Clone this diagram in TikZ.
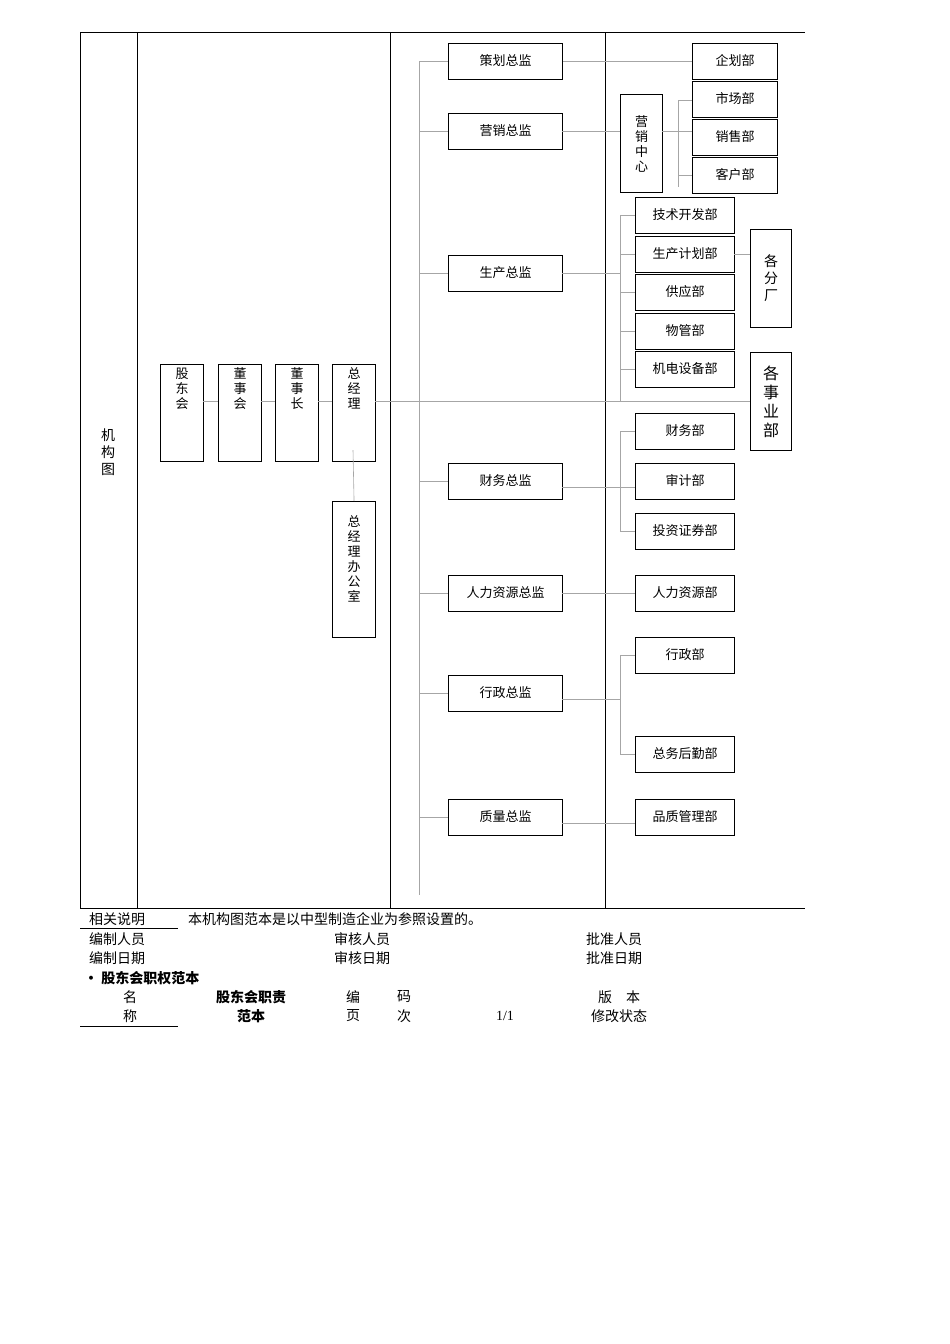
\documentclass[tikz,border=0pt]{standalone}
\usepackage{fontspec}
\setmainfont{Liberation Serif}
\newfontfamily\cjk{Noto Sans CJK SC}
\begin{document}
\begin{tikzpicture}[x=1pt,y=-1pt,
  bx/.style={draw,line width=1.1pt,inner sep=0pt,font=\cjk\fontsize{13}{15}\selectfont,align=center},
  ln/.style={draw=gray!70,line width=0.6pt},
  frame/.style={line width=0.8pt},
  txt/.style={font=\cjk\fontsize{14}{16}\selectfont,inner sep=0pt,anchor=west},
  btxt/.style={font=\cjk\bfseries\fontsize{14}{16}\selectfont,inner sep=0pt}]
\useasboundingbox (0,0) rectangle (950,1344);
% frame
\draw[frame] (80,32) -- (805,32);
\draw[frame] (80,908) -- (805,908);
\foreach \x in {80,137,390,605} \draw[frame] (\x,32) -- (\x,908);
\node[font=\cjk\fontsize{14}{17}\selectfont,align=center] (jgt) at (108,452) {机\\构\\图};
% small tall boxes
\newcommand{\tb}[5]{\node[bx,minimum width=#3,minimum height=#4,anchor=north west] (#1) at #2 {#5};}
\node[bx,minimum width=43,minimum height=86,anchor=north west] (gdh) at (160,364) {\rule{0pt}{14pt}股\\东\\会\\[38pt]};
\node[bx,minimum width=43,minimum height=86,anchor=north west] (dsh) at (218,364) {\rule{0pt}{14pt}董\\事\\会\\[38pt]};
\node[bx,minimum width=43,minimum height=86,anchor=north west] (dsz) at (275,364) {\rule{0pt}{14pt}董\\事\\长\\[38pt]};
\node[bx,minimum width=43,minimum height=86,anchor=north west] (zjl) at (332,364) {\rule{0pt}{14pt}总\\经\\理\\[38pt]};
\node[bx,minimum width=43,minimum height=136,anchor=north west] (bgs) at (332,501) {\rule{0pt}{14pt}总\\经\\理\\办\\公\\室\\[10pt]};
\draw[ln] (203,401) -- (218,401);
\draw[ln] (261,401) -- (275,401);
\draw[ln] (318,401) -- (332,401);
\draw[ln] (353,450) -- (bgs.north);
% directors
\foreach \n/\y/\t in {chz/43/策划总监,yxz/113/营销总监,scz/255/生产总监,cwz/463/财务总监,rlz/575/人力资源总监,xzz/675/行政总监,zlz/799/质量总监}{
  \node[bx,minimum width=114,minimum height=36,anchor=north west] (\n) at (448,\y) {\raisebox{4pt}{\t}};
  \draw[ln] (419,\y+18) -- (448,\y+18);
}
\draw[ln] (419,62) -- (419,895);
% departments right
\node[bx,minimum width=85,minimum height=36,anchor=north west] (qhb) at (692,43) {\raisebox{4pt}{企划部}};
\node[bx,minimum width=85,minimum height=36,anchor=north west] (scb) at (692,81) {\raisebox{4pt}{市场部}};
\node[bx,minimum width=85,minimum height=36,anchor=north west] (xsb) at (692,119) {\raisebox{4pt}{销售部}};
\node[bx,minimum width=85,minimum height=36,anchor=north west] (khb) at (692,157) {\raisebox{4pt}{客户部}};
\node[bx,minimum width=42,minimum height=98,anchor=north west] (yxzx) at (620,94) {营\\销\\中\\心};
\draw[ln] (chz.east |- 0,61) -- (692,61);
\draw[ln] (562,131) -- (620,131);
\draw[ln] (662,131) -- (692,131);
\draw[ln] (678,100) -- (678,187);
\draw[ln] (678,100) -- (692,100);
\draw[ln] (678,175) -- (692,175);
% production
\foreach \n/\y/\t in {jsb/197/技术开发部,jhb/236/生产计划部,gyb/274/供应部,wgb/313/物管部,jdb/351/机电设备部,cwb/413/财务部,sjb/463/审计部,tzb/513/投资证券部,rlb/575/人力资源部,xzb/637/行政部,hqb/736/总务后勤部,pzb/799/品质管理部}{
  \node[bx,minimum width=99,minimum height=36,anchor=north west] (\n) at (635,\y) {\raisebox{4pt}{\t}};
}
\foreach \y in {215,254,292,331,369} \draw[ln] (620,\y) -- (635,\y);
\draw[ln] (620,215) -- (620,402);
\draw[ln] (562,273) -- (620,273);
\node[bx,minimum width=41,minimum height=98,anchor=north west,font=\cjk\fontsize{14}{17}\selectfont] (gfc) at (750,229) {各\\分\\厂};
\node[bx,minimum width=41,minimum height=98,anchor=north west,font=\cjk\fontsize{16}{19}\selectfont] (gsyb) at (750,352) {各\\事\\业\\部};
\draw[ln] (734,254) -- (750,254);
\draw[ln] (375,401) -- (750,401);
% finance
\draw[ln] (620,431) -- (620,531);
\foreach \y in {431,531} \draw[ln] (620,\y) -- (635,\y);
\draw[ln] (562,487) -- (635,487);
\draw[ln] (562,593) -- (635,593);
\draw[ln] (620,655) -- (620,754);
\foreach \y in {655,754} \draw[ln] (620,\y) -- (635,\y);
\draw[ln] (562,699) -- (620,699);
\draw[ln] (562,823) -- (635,823);
% bottom texts
\node[txt] (t1) at (89,919) {相关说明};
\draw[line width=0.6pt] (80,928) -- (178,928);
\node[txt] (t2) at (188,919) {本机构图范本是以中型制造企业为参照设置的。};
\node[txt] (t3) at (89,939) {编制人员};
\node[txt] (t4) at (334,939) {审核人员};
\node[txt] (t5) at (586,939) {批准人员};
\node[txt] (t6) at (89,958) {编制日期};
\node[txt] (t7) at (334,958) {审核日期};
\node[txt] (t8) at (586,958) {批准日期};
\node[btxt,anchor=west] (t9) at (84,978) {• 股东会职权范本};
\node[txt,anchor=center] (a1) at (130,997) {名};
\node[btxt] (a2) at (251,997) {股东会职责};
\node[txt,anchor=center] (a3) at (353,997) {编};
\node[txt,anchor=center] (a4) at (404,997) {码};
\node[txt,anchor=center] (a5) at (619,997) {版\hspace{14pt}本};
\node[txt,anchor=center] (b1) at (130,1016) {称};
\node[btxt] (b2) at (251,1016) {范本};
\node[txt,anchor=center] (b3) at (353,1016) {页};
\node[txt,anchor=center] (b4) at (404,1016) {次};
\node[inner sep=0pt,font=\fontsize{14}{16}\selectfont] (b5) at (505,1016) {1/1};
\node[txt,anchor=center] (b6) at (619,1016) {修改状态};
\draw[line width=0.6pt] (80,1026) -- (178,1026);
\end{tikzpicture}
\end{document}
